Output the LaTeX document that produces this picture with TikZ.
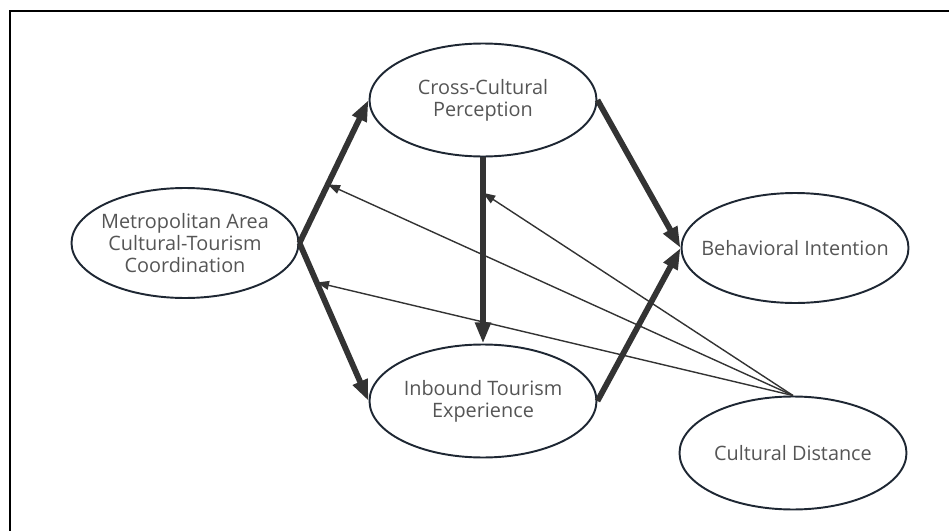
\documentclass[tikz,border=0pt]{standalone}
\usepackage{fontspec}
\setmainfont{Open Sans}
\usepackage{tikz}
\usetikzlibrary{arrows.meta,shapes.geometric}
\definecolor{pathgray}{HTML}{333333}
\definecolor{rimblue}{HTML}{1E2733}
\definecolor{labelgray}{HTML}{555555}

\begin{document}
\begin{tikzpicture}[
  construct/.style={draw=rimblue,ellipse,line width=1.1pt,inner xsep=-10pt,inner ysep=0pt,
                    minimum width=4.54cm,minimum height=2.26cm,align=center,
                    font=\fontsize{11.3}{12.6}\selectfont,text=labelgray},
  mainpath/.style={-{Triangle[length=12pt,width=8.5pt]},line width=3.3pt,pathgray},
  modpath/.style={-{Triangle[length=7pt,width=5pt]},line width=0.8pt,pathgray}]
  \useasboundingbox (0,0) rectangle (18.98,-10.62);
  % frame
  \draw[line width=1.3pt] (0.2,-10.62) -- (0.2,-0.22) -- (18.98,-0.22);
  % constructs
  \node[construct] (ccp) at (9.66,-2.00) {Cross-Cultural\\Perception};
  \node[construct,minimum height=2.2cm] (mac) at (3.70,-4.86)
    {Metropolitan Area\\Cultural-Tourism\\Coordination};
  \node[construct,minimum height=2.2cm] (bi) at (15.90,-4.96) {Behavioral Intention};
  \node[construct] (ite) at (9.66,-8.02) {Inbound Tourism\\Experience};
  \node[construct] (cd) at (15.86,-9.06) {Cultural Distance};
  % direct paths
  \draw[mainpath] (mac.east) -- coordinate[pos=0.41] (m1) (ccp.west);
  \draw[mainpath] (mac.east) -- coordinate[pos=0.25] (m2) (ite.west);
  \draw[mainpath] (ccp.south) -- coordinate[pos=0.19] (m3) (ite.north);
  \draw[mainpath] (ccp.east) -- (bi.west);
  \draw[mainpath] (ite.east) -- (bi.west);
  % moderation by cultural distance
  \draw[modpath] (cd.north) -- (m1);
  \draw[modpath] (cd.north) -- (m2);
  \draw[modpath] (cd.north) -- (m3);
\end{tikzpicture}
\end{document}
